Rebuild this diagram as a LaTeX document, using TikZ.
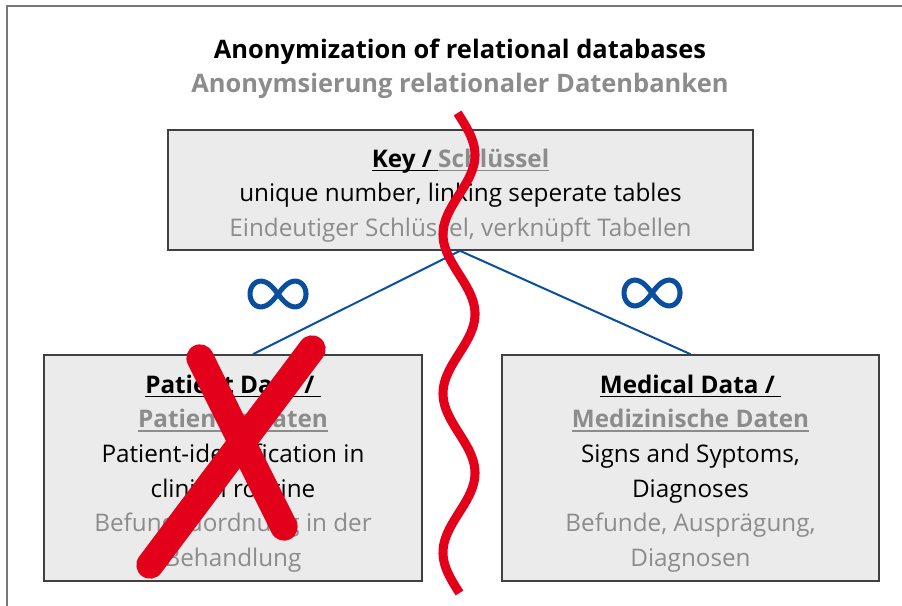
\documentclass[tikz,border=0pt]{standalone}
\usepackage{fontspec}
\setmainfont{Open Sans}
\newcommand\myul[1]{\setbox0\hbox{#1}\leavevmode\rlap{\rule[-3pt]{\wd0}{1.1pt}}\box0}
\newcommand\topstrut{\rule{0pt}{22pt}}
\definecolor{txtgray}{HTML}{8C8C8C}
\definecolor{framegray}{HTML}{777777}
\definecolor{boxfill}{HTML}{EBEBEB}
\definecolor{boxline}{HTML}{404040}
\definecolor{linkblue}{HTML}{0A4F9E}
\definecolor{xred}{HTML}{E2001A}
\tikzset{
  tbox/.style={draw=boxline, line width=1.2pt, fill=boxfill, inner sep=0pt, align=center,
    font=\fontsize{18.2}{26}\selectfont},
  titletext/.style={font=\fontsize{19.1}{25}\selectfont\bfseries, anchor=base},
  link/.style={draw=linkblue, line width=1.5pt},
  inf/.style={draw=linkblue, line width=3.8pt},
  redmark/.style={draw=xred, line width=20.5pt, line cap=round},
  redwave/.style={draw=xred, line width=6.8pt, line cap=butt},
}
\begin{document}
\begin{tikzpicture}[x=0.75pt, y=-0.75pt]
\useasboundingbox (0,0) rectangle (902,606);
% frame
\draw[framegray, line width=1.5pt] (6.5,606) -- (6.5,6.5) -- (902,6.5);
% title
\node[titletext] (title) at (460,59) {Anonymization of relational databases};
\node[titletext, txtgray] (subtitle) at (460,93) {Anonymsierung relationaler Datenbanken};
% boxes
\node[tbox, minimum width=438.75pt, minimum height=90pt] (key) at (460.5,190)
  {\topstrut\textbf{\myul{Key /\ }{\color{txtgray}\myul{Schlüssel}}}\\
   unique number, linking seperate tables\\
   \textcolor{txtgray}{Eindeutiger Schlüssel, verknüpft Tabellen}};
\node[tbox, minimum width=283.5pt, minimum height=169.5pt] (pat) at (233,468)
  {\topstrut\textbf{\myul{Patient Data /\ }}\\
   \textbf{\color{txtgray}\myul{Patientendaten}}\\
   Patient-identification in\\
   clinical routine\\
   \textcolor{txtgray}{Befundzuordnung in der}\\
   \textcolor{txtgray}{Behandlung}};
\node[tbox, minimum width=282.75pt, minimum height=169.5pt] (med) at (690.5,468)
  {\topstrut\textbf{\myul{Medical Data /\ }}\\
   \textbf{\color{txtgray}\myul{Medizinische Daten}}\\
   Signs and Syptoms,\\
   Diagnoses\\
   \textcolor{txtgray}{Befunde, Ausprägung,}\\
   \textcolor{txtgray}{Diagnosen}};
% connectors
\coordinate (keyfoot) at ([xshift=-0.4pt]key.south);
\draw[link] (keyfoot) -- ([xshift=15pt]pat.north);
\draw[link] (keyfoot) -- (med.north);
% infinity signs
\coordinate (infL) at (278,294);
\coordinate (infR) at (652,293);
\foreach \c in {infL,infR}{
  \draw[inf, shift={(\c)}] plot[domain=0:360, samples=100, smooth, variable=\t]
    ({28*cos(\t)/(1+sin(\t)^2)}, {1.3*28*sin(\t)*cos(\t)/(1+sin(\t)^2)}) -- cycle;
}
% red cross over patient data
\draw[redmark] (200,358) -- (284,527);
\draw[redmark] (312,349) -- (150,565);
% red wavy cut
\draw[redwave] plot[domain=113:593, samples=160, smooth, variable=\t]
  ({459+16*sin(2.2642*(\t-155)+90)}, \t);
\end{tikzpicture}
\end{document}
